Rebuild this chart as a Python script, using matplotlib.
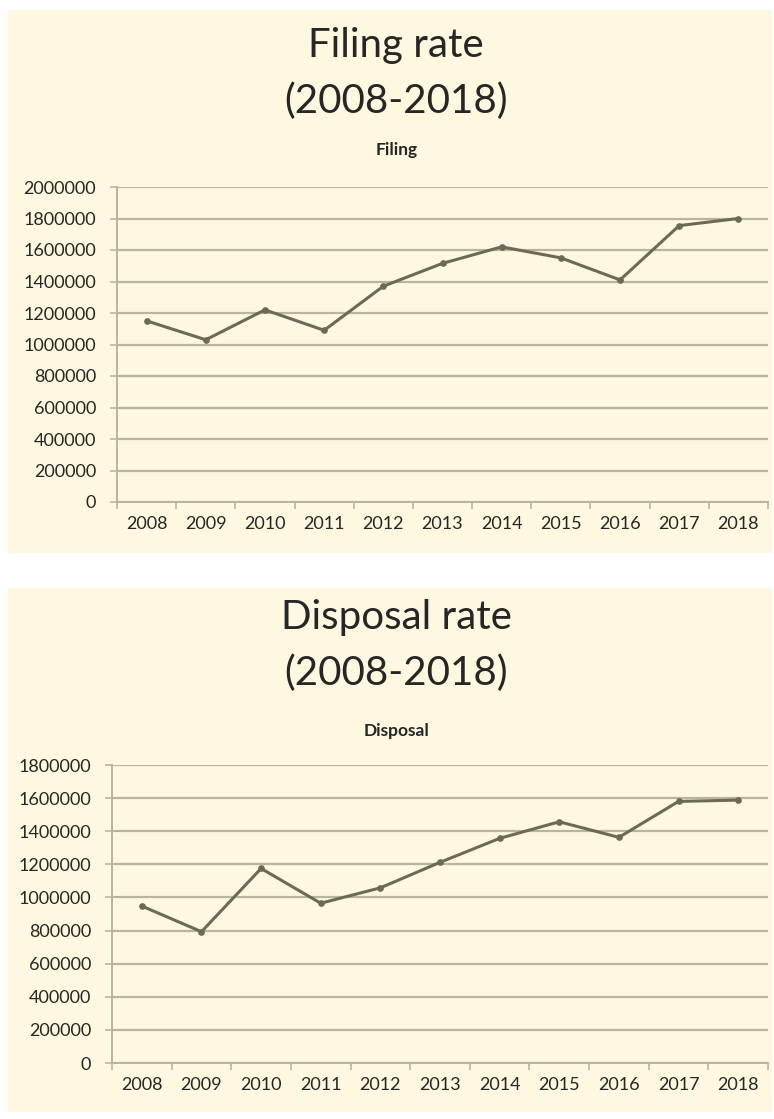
import matplotlib
matplotlib.use('Agg')
from matplotlib import pyplot as plt
from matplotlib.patches import Rectangle

years = ['2008', '2009', '2010', '2011', '2012', '2013',
         '2014', '2015', '2016', '2017', '2018']
filing = [1150000, 1030000, 1220000, 1090000, 1370000, 1515000,
          1620000, 1550000, 1410000, 1755000, 1800000]
disposal = [948000, 793000, 1175000, 965000, 1058000, 1212000,
            1357000, 1457000, 1363000, 1580000, 1588000]

filing_ticks = list(range(0, 2000001, 200000))
disposal_ticks = list(range(0, 1800001, 200000))

plt.rcParams['font.family'] = ['Lato', 'DejaVu Sans']

W, H = 774, 1119
CREAM = '#fdf8df'
LINE = '#6c6b52'
GRID = '#b9b59c'
TEXT = '#262626'


# Draws one chart panel (cream card, titles, line plot) on the figure.
def drawPanel(fig, card, title_ys, titles, sub, rect, values, yticks):
    x0, y0, x1, y1 = card
    fig.patches.append(Rectangle((x0 / W, 1 - y1 / H), (x1 - x0) / W, (y1 - y0) / H,
                                 transform=fig.transFigure, facecolor=CREAM,
                                 edgecolor='none', zorder=-5))
    for y, t in zip(title_ys, titles):
        fig.text(0.512, 1 - y / H, t, ha='center', va='center',
                 fontsize=29, color=TEXT)
    fig.text(0.512, 1 - title_ys[2] / H, sub, ha='center', va='center',
             fontsize=12.5, fontweight='bold', color=TEXT)

    left, top, right, bottom = rect
    ax = fig.add_axes([left / W, 1 - bottom / H, (right - left) / W, (bottom - top) / H])
    ax.set_facecolor('none')
    xs = list(range(len(years)))
    ax.plot(xs, values, color=LINE, lw=2.2, marker='o', ms=3.8, zorder=3)

    # Format axes like an Excel chart.
    ax.set_xlim(-0.5, len(years) - 0.5)
    ax.set_ylim(0, yticks[-1])
    ax.set_yticks(yticks)
    ax.set_yticklabels([str(v) for v in yticks])
    ax.set_xticks(xs)
    ax.set_xticklabels(years)
    ax.set_xticks([i - 0.5 for i in range(len(years) + 1)], minor=True)
    ax.tick_params(axis='x', which='major', length=0, pad=10, labelsize=13, labelcolor=TEXT)
    ax.tick_params(axis='x', which='minor', length=5, color=GRID, width=1.2)
    ax.tick_params(axis='y', length=5, color=GRID, width=1.2, pad=10,
                   labelsize=13, labelcolor=TEXT)
    ax.grid(axis='y', color=GRID, lw=1.6)
    for s in ['top', 'right']:
        ax.spines[s].set_visible(False)
    for s in ['left', 'bottom']:
        ax.spines[s].set_color(GRID)
        ax.spines[s].set_linewidth(1.4)
    ax.set_axisbelow(True)
    return ax


fig = plt.figure(figsize=(W / 100, H / 100), dpi=100)
fig.patch.set_facecolor('white')

drawPanel(fig, (8, 10, 772, 553), (46, 101, 150), ('Filing rate', '(2008-2018)'),
          'Filing', (117, 187, 768, 502), filing, filing_ticks)
drawPanel(fig, (8, 588, 772, 1112), (618, 673, 731), ('Disposal rate', '(2008-2018)'),
          'Disposal', (112, 765, 768, 1063), disposal, disposal_ticks)

fig.savefig('out.png', dpi=100)
